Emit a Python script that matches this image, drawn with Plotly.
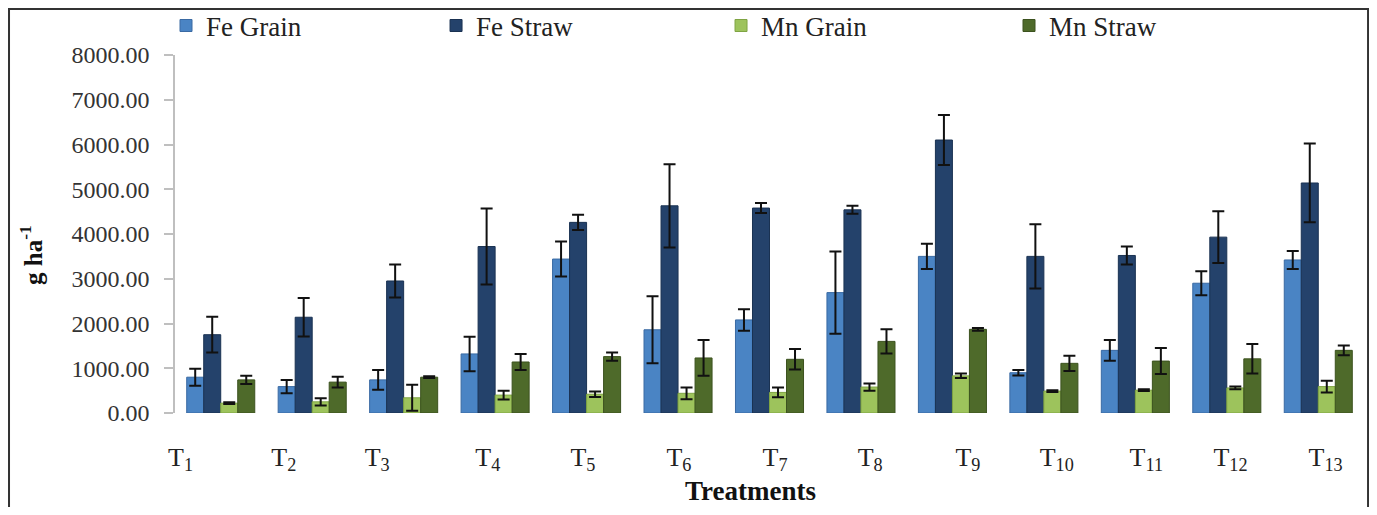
import plotly.graph_objects as go

treatments = ["T<sub>%d</sub>" % i for i in range(1, 14)]
positions = list(range(13))
label_positions = [-0.44, 0.69, 1.71, 2.92, 3.96, 5.01, 6.06, 7.10, 8.17, 9.14, 10.12, 11.04, 12.08]

fe_grain = [800, 590, 740, 1320, 3440, 1860, 2080, 2690, 3500, 900, 1400, 2900, 3420]
fe_grain_err = [190, 150, 220, 385, 390, 750, 240, 920, 280, 60, 230, 270, 200]
fe_straw = [1750, 2140, 2950, 3720, 4260, 4630, 4580, 4540, 6100, 3500, 3520, 3930, 5140]
fe_straw_err = [400, 430, 370, 850, 170, 930, 110, 90, 560, 720, 200, 580, 880]
mn_grain = [220, 250, 340, 400, 420, 440, 460, 580, 830, 490, 510, 560, 590]
mn_grain_err = [20, 80, 290, 100, 60, 130, 110, 80, 50, 20, 20, 30, 130]
mn_straw = [740, 690, 800, 1140, 1260, 1230, 1200, 1600, 1870, 1110, 1160, 1210, 1400]
mn_straw_err = [90, 120, 20, 180, 90, 400, 230, 270, 30, 170, 290, 330, 110]

series = [
    ("Fe Grain", fe_grain, fe_grain_err, "#4a84c4", "#3a6aa3"),
    ("Fe Straw", fe_straw, fe_straw_err, "#24426b", "#1a3252"),
    ("Mn Grain", mn_grain, mn_grain_err, "#9dc35c", "#7fa443"),
    ("Mn Straw", mn_straw, mn_straw_err, "#4e6a2a", "#3c521f"),
]
legend_ids = ["legend", "legend2", "legend3", "legend4"]
legend_x = [0.1161, 0.3145, 0.5239, 0.7355]

FONT = "Liberation Serif, Times New Roman, serif"

fig = go.Figure()
for (name, vals, errs, color, edge), lid in zip(series, legend_ids):
    fig.add_trace(go.Bar(
        x=positions, y=vals, name=name, legend=lid,
        marker=dict(color=color, line=dict(color=edge, width=1)),
        error_y=dict(type="data", array=errs, color="#111111", thickness=2, width=6),
    ))

legend_style = dict(
    orientation="h", xref="container", yref="container",
    xanchor="left", y=0.964, yanchor="middle",
    font=dict(family=FONT, size=27, color="#222222"),
    bgcolor="rgba(0,0,0,0)",
)

fig.update_layout(
    width=1361, height=499,
    margin=dict(l=167, r=5, t=47, b=94, autoexpand=False),
    paper_bgcolor="white", plot_bgcolor="white",
    barmode="group", bargap=0.256, bargroupgap=0,
    font=dict(family=FONT, size=20, color="#222222"),
    showlegend=True,
    xaxis=dict(
        range=[-0.5, 12.5], tickmode="array", tickvals=label_positions, ticktext=treatments,
        showline=False, showgrid=False, zeroline=False, ticks="",
        tickfont=dict(family=FONT, size=26, color="#222222"),
        ticklabelstandoff=26, automargin=False,
    ),
    yaxis=dict(
        range=[0, 8000], dtick=1000, tickformat=".2f",
        showline=True, linecolor="#bfbfbf", linewidth=1.5,
        ticks="outside", ticklen=9, tickcolor="#bfbfbf", tickwidth=1.5,
        showgrid=False, zeroline=False, automargin=False,
        tickfont=dict(family=FONT, size=24, color="#333333"),
        ticklabelstandoff=10,
    ),
    shapes=[dict(type="rect", xref="paper", yref="paper",
                 x0=-0.1396, x1=1.0034, y0=-0.40, y1=1.1285,
                 line=dict(color="#333333", width=2), fillcolor="rgba(0,0,0,0)")],
    annotations=[
        dict(text="<b>Treatments</b>", xref="paper", yref="paper", x=(750 - 175) / 1189,
             y=-0.218, xanchor="center", yanchor="middle", showarrow=False,
             font=dict(family=FONT, size=27, color="#111111")),
        dict(text="<b>g ha<sup>-1</sup></b>", xref="paper", yref="paper", x=(31 - 175) / 1189,
             y=(413 - 255) / 358, xanchor="center", yanchor="middle", showarrow=False,
             textangle=-90, font=dict(family=FONT, size=25, color="#111111")),
    ],
)
for lid, lx in zip(legend_ids, legend_x):
    fig.update_layout({lid: dict(legend_style, x=lx)})

fig.write_html("out.html")
